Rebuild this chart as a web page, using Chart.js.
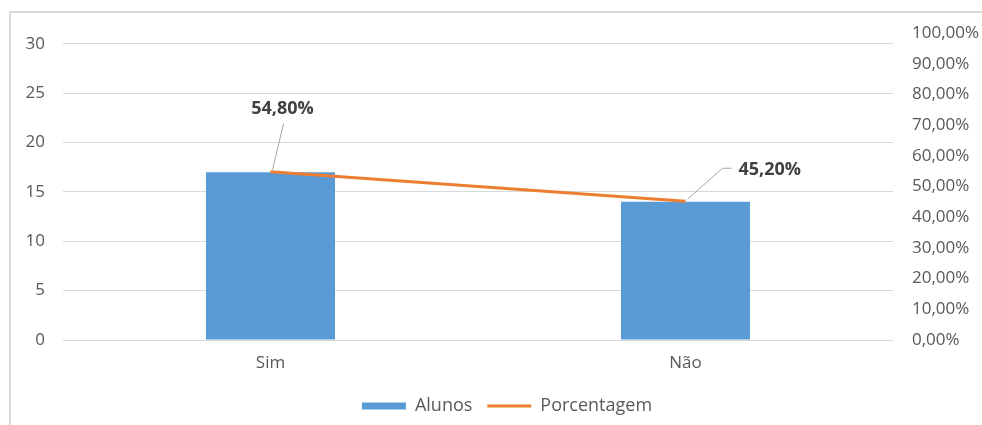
<!DOCTYPE html>
<html lang="pt">
<head>
<meta charset="utf-8">
<title>Alunos</title>
<script src="https://cdn.jsdelivr.net/npm/chart.js@4.4.1/dist/chart.umd.min.js"></script>
<style>
  html, body { margin: 0; padding: 0; background: #ffffff; }
  #wrap { position: relative; width: 982px; height: 425px; overflow: hidden; }
  #frame { position: absolute; left: 9px; top: 11px; width: 1000px; height: 500px;
           border-left: 2px solid #d9d9d9; border-top: 2px solid #d9d9d9; }
  canvas { position: absolute; left: 0; top: 0; }
</style>
</head>
<body>
<div id="wrap">
  <div id="frame"></div>
  <canvas id="chart" width="982" height="425"></canvas>
</div>
<script>
// Categories and series
const categories = ['Sim', 'Não'];
const alunos = [17, 14];
const porcentagem = [0.548, 0.452];
const countTicks = [0, 5, 10, 15, 20, 25, 30];
const percentTicks = [0, 0.1, 0.2, 0.3, 0.4, 0.5, 0.6, 0.7, 0.8, 0.9, 1.0];

const fontFamily = '"Open Sans", "Noto Sans", sans-serif';
const tickColor = '#595959';

function formatPercent(v) {
  return (v * 100).toFixed(2).replace('.', ',') + '%';
}

// Bold value labels with grey leader lines next to the line points
const valueLabels = {
  id: 'valueLabels',
  afterDatasetsDraw(chart, args, opts) {
    const meta = chart.getDatasetMeta(1);
    const ctx = chart.ctx;
    ctx.save();
    ctx.font = 'bold 18px ' + fontFamily;
    ctx.fillStyle = '#404040';
    ctx.textBaseline = 'middle';
    meta.data.forEach((pt, i) => {
      const o = opts.offsets[i];
      const text = formatPercent(porcentagem[i]);
      ctx.strokeStyle = '#a6a6a6';
      ctx.lineWidth = 1;
      ctx.beginPath();
      ctx.moveTo(pt.x + o.lead[0][0], pt.y + o.lead[0][1]);
      for (let k = 1; k < o.lead.length; k++) {
        ctx.lineTo(pt.x + o.lead[k][0], pt.y + o.lead[k][1]);
      }
      ctx.stroke();
      ctx.textAlign = o.align;
      ctx.fillText(text, pt.x + o.dx, pt.y + o.dy);
    });
    ctx.restore();
  }
};

new Chart(document.getElementById('chart'), {
  data: {
    labels: categories,
    datasets: [
      {
        type: 'bar',
        label: 'Alunos',
        data: alunos,
        backgroundColor: '#5b9bd5',
        borderWidth: 0,
        categoryPercentage: 1,
        barPercentage: 0.311,
        yAxisID: 'y',
        pointStyle: 'rect',
        order: 2
      },
      {
        type: 'line',
        label: 'Porcentagem',
        data: porcentagem,
        borderColor: '#ed7d31',
        backgroundColor: '#ed7d31',
        borderWidth: 3,
        pointRadius: 0,
        tension: 0,
        yAxisID: 'y1',
        pointStyle: 'line',
        order: 1
      }
    ]
  },
  options: {
    responsive: false,
    animation: false,
    // negative right padding widens the layout so the legend centres under the plot plus right axis
    layout: { padding: { top: 33, right: -32, bottom: 0, left: 0 } },
    scales: {
      x: {
        grid: { display: false, drawTicks: false },
        border: { display: false },
        ticks: { color: tickColor, font: { family: fontFamily, size: 17 }, padding: 13 },
        afterFit(scale) { scale.height = 42; }
      },
      y: {
        position: 'left',
        min: 0,
        max: 31.1,
        grid: { color: '#d9d9d9', lineWidth: 1, drawTicks: false },
        border: { display: false },
        ticks: { color: tickColor, font: { family: fontFamily, size: 17 }, padding: 18 },
        afterBuildTicks(scale) {
          scale.ticks = countTicks.map(v => ({ value: v }));
        },
        afterFit(scale) { scale.width = 63; }
      },
      y1: {
        position: 'right',
        min: 0,
        max: 1,
        grid: { display: false, drawTicks: false },
        border: { display: false },
        ticks: {
          color: tickColor,
          font: { family: fontFamily, size: 17 },
          padding: 19,
          callback: v => formatPercent(v)
        },
        afterBuildTicks(scale) {
          scale.ticks = percentTicks.map(v => ({ value: v }));
        },
        afterFit(scale) { scale.width = 121; }
      }
    },
    plugins: {
      legend: {
        position: 'bottom',
        labels: {
          usePointStyle: true,
          pointStyleWidth: 44,
          boxHeight: 7,
          padding: 15,
          color: tickColor,
          font: { family: fontFamily, size: 18 },
          sort: (a, b) => a.datasetIndex - b.datasetIndex
        }
      },
      tooltip: { enabled: false },
      valueLabels: {
        offsets: [
          { dx: 12, dy: -63, align: 'center', lead: [[2, -2], [13, -48]] },
          { dx: 53, dy: -31, align: 'left', lead: [[2, -2], [37, -33], [46, -33]] }
        ]
      }
    }
  },
  plugins: [valueLabels]
});
</script>
</body>
</html>
